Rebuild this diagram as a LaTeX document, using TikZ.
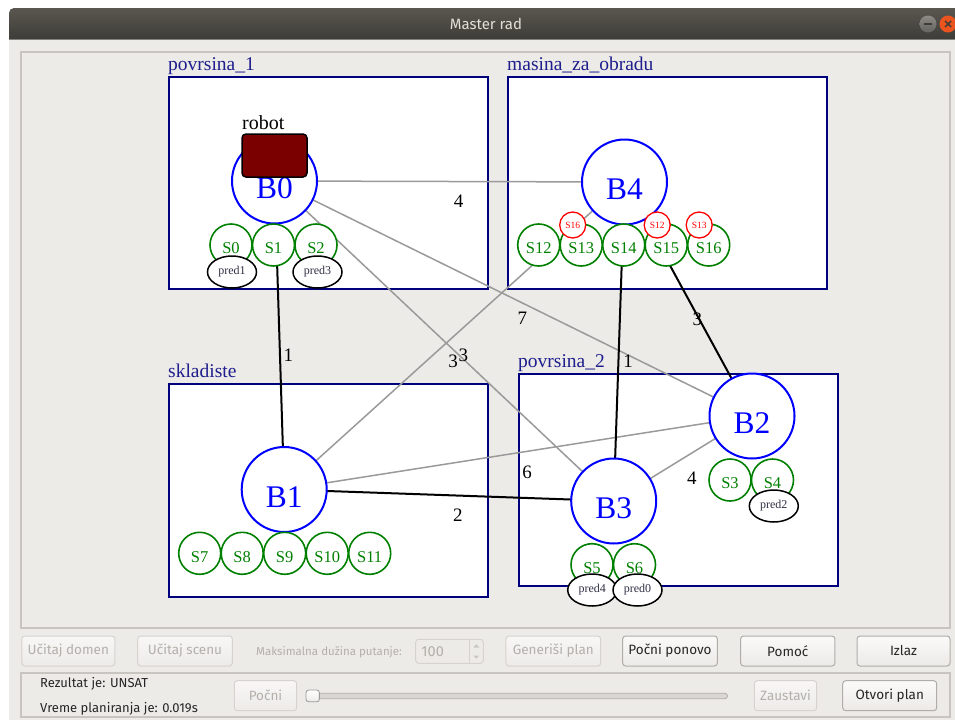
\documentclass[tikz,border=0pt]{standalone}
\usepackage{fontspec}
\setmainfont{Liberation Serif}
\newfontfamily\uifont{Fira Sans}
\usetikzlibrary{shapes.geometric}

% window and widget colours
\definecolor{deskwhite}{HTML}{FFFFFF}
\definecolor{winbg}{HTML}{EDEBE8}
\definecolor{titletop}{HTML}{5A5750}
\definecolor{titlebot}{HTML}{3D3C38}
\definecolor{titletext}{HTML}{E4E0D7}
\definecolor{framegray}{HTML}{C8C5C0}
\definecolor{btnborder}{HTML}{B0ADA8}
\definecolor{btnborderoff}{HTML}{D6D3CE}
\definecolor{btntop}{HTML}{FAFAF9}
\definecolor{btnbot}{HTML}{ECEAE7}
\definecolor{uitext}{HTML}{262626}
\definecolor{uitextoff}{HTML}{B3B0AA}
\definecolor{closeorange}{HTML}{E9541F}
\definecolor{mingray}{HTML}{7E7C77}
\definecolor{tracktone}{HTML}{DAD7D2}
\definecolor{handleedge}{HTML}{9C9A95}
% scene colours
\definecolor{areanavy}{HTML}{00007F}
\definecolor{labelnavy}{HTML}{1E1E8C}
\definecolor{basisblue}{HTML}{0000FF}
\definecolor{slotgreen}{HTML}{008000}
\definecolor{heldred}{HTML}{FF0000}
\definecolor{linkgray}{HTML}{9A9A9A}
\definecolor{robotred}{HTML}{7A0000}
\definecolor{predtext}{HTML}{303045}

\pgfdeclarelayer{panel}
\pgfdeclarelayer{links}
\pgfsetlayers{panel,links,main}

\begin{document}
\begin{tikzpicture}[x=1pt,y=-1pt,
  area/.style={rectangle, draw=areanavy, line width=2pt, fill=white, inner sep=0pt, anchor=north west},
  arealabel/.style={anchor=base west, inner sep=0pt, text=labelnavy, font=\fontsize{19.5}{20}\selectfont},
  basis/.style={circle, draw=basisblue, line width=2pt, fill=white, minimum size=85pt, inner sep=0pt,
    text=basisblue, font=\fontsize{31.5}{32}\selectfont, text height=35pt, text depth=0pt},
  slot/.style={circle, draw=slotgreen, line width=1.6pt, fill=white, minimum size=42pt, inner sep=0pt,
    text=slotgreen, font=\fontsize{16.5}{17}\selectfont, text height=17.5pt, text depth=0pt},
  held/.style={circle, draw=heldred, line width=1.3pt, fill=white, minimum size=26pt, inner sep=0pt,
    text=heldred, font=\fontsize{9.5}{10}\selectfont},
  pred/.style={ellipse, draw=black, line width=1.5pt, fill=white, minimum width=49pt, minimum height=32pt,
    inner sep=0pt, text=predtext, font=\fontsize{12}{12}\selectfont},
  thinlink/.style={draw=linkgray, line width=1.5pt},
  boldlink/.style={draw=black, line width=2pt},
  weight/.style={inner sep=0pt, xshift=9pt, yshift=-20pt, text=black, font=\fontsize{19}{19}\selectfont},
  uibtn/.style={rectangle, rounded corners=3pt, draw=btnborder, line width=1pt, top color=btntop,
    bottom color=btnbot, minimum height=30pt, inner sep=0pt, text=uitext,
    font=\uifont\fontsize{13.5}{14}\selectfont},
  uibtnoff/.style={uibtn, draw=btnborderoff, top color=winbg!40!white, bottom color=winbg, text=uitextoff},
  uilabel/.style={anchor=west, inner sep=0pt, text=uitext, font=\uifont\fontsize{13}{14}\selectfont},
]
\useasboundingbox (0,0) rectangle (955,720);

\begin{pgfonlayer}{panel}
  % desktop, window body and title bar
  \fill[deskwhite] (0,0) rectangle (955,720);
  \fill[winbg] (9,39.5) rectangle (955,720);
  \shade[top color=titletop, bottom color=titlebot]
    (9,39.5) [rounded corners=5pt] -- (9,8) -- (962,8) [sharp corners] -- (962,39.5) -- cycle;
  % drawing canvas and status panel frames
  \draw[framegray, line width=1.5pt] (21,52) rectangle (950,628);
  \draw[framegray, line width=1.2pt] (21,673) rectangle (950,717);

  % the four work areas
  \node[area, minimum width=319pt, minimum height=212pt] (zone1) at (168,76) {};
  \node[area, minimum width=319pt, minimum height=212pt] (zonemach) at (507,76) {};
  \node[area, minimum width=319pt, minimum height=213pt] (zonestore) at (168,383) {};
  \node[area, minimum width=319pt, minimum height=212pt] (zone2) at (518,373) {};
\end{pgfonlayer}

% window title and controls
\node[text=titletext, font=\uifont\fontsize{15}{15}\selectfont] (wintitle) at (486,24) {Master rad};
\node[circle, minimum size=17pt, inner sep=0pt, top color=mingray!90!white, bottom color=mingray!80!black] (minbtn) at (928,24) {};
\draw[titlebot, line width=1.5pt] ([xshift=-4pt]minbtn.center) -- ([xshift=4pt]minbtn.center);
\node[circle, minimum size=17pt, inner sep=0pt, fill=closeorange] (closebtn) at (948,24) {};
\draw[titlebot, line width=1.4pt] ([shift={(-3pt,-3pt)}]closebtn.center) -- ([shift={(3pt,3pt)}]closebtn.center);
\draw[titlebot, line width=1.4pt] ([shift={(-3pt,3pt)}]closebtn.center) -- ([shift={(3pt,-3pt)}]closebtn.center);

% area captions
\node[arealabel] (zone1lbl) at ([yshift=6pt]zone1.north west) {povrsina\_1};
\node[arealabel] (zonemachlbl) at ([yshift=6pt]zonemach.north west) {masina\_za\_obradu};
\node[arealabel] (zonestorelbl) at ([yshift=6pt]zonestore.north west) {skladiste};
\node[arealabel] (zone2lbl) at ([yshift=6pt]zone2.north west) {povrsina\_2};

% bases
\node[basis] (B0) at (274.5,181) {B0};
\node[basis] (B4) at (624.5,182) {B4};
\node[basis] (B1) at (284.2,489.5) {B1};
\node[basis] (B2) at (752,416) {B2};
\node[basis] (B3) at (613.7,501) {B3};

% slots
\node[slot] (S0) at (231,245) {S0};
\node[slot] (S1) at (273.5,245) {S1};
\node[slot] (S2) at (316,245) {S2};
\node[slot] (S12) at (538.7,245) {S12};
\node[slot] (S13) at (581.2,245) {S13};
\node[slot] (S14) at (623.7,245) {S14};
\node[slot] (S15) at (666.2,245) {S15};
\node[slot] (S16) at (708.7,245) {S16};
\node[slot] (S7) at (199.7,553.3) {S7};
\node[slot] (S8) at (242.2,553.3) {S8};
\node[slot] (S9) at (284.7,553.3) {S9};
\node[slot] (S10) at (327.2,553.3) {S10};
\node[slot] (S11) at (369.7,553.3) {S11};
\node[slot] (S3) at (730,480) {S3};
\node[slot] (S4) at (772.5,480) {S4};
\node[slot] (S5) at (592,564.7) {S5};
\node[slot] (S6) at (634.5,564.7) {S6};

% slots held on top of other slots
\node[held] (onS13) at ([shift={(-8.5pt,20pt)}]S13.center) {S16};
\node[held] (onS15) at ([shift={(-9pt,20pt)}]S15.center) {S12};
\node[held] (onS16) at ([shift={(-9.5pt,20pt)}]S16.center) {S13};

% predicates
\node[pred] (pred1) at (232,272) {pred1};
\node[pred] (pred3) at (317.5,272) {pred3};
\node[pred] (pred2) at (773.8,506) {pred2};
\node[pred] (pred4) at (592.2,590) {pred4};
\node[pred] (pred0) at (637.5,590) {pred0};

% robot
\node[rectangle, rounded corners=4pt, draw=black, line width=1.5pt, fill=robotred,
  minimum width=65pt, minimum height=43pt, inner sep=0pt] (robot) at (274.5,155.5) {};
\node[anchor=base west, inner sep=0pt, font=\fontsize{20}{20}\selectfont] (robotlbl) at (242,129) {robot};

% weighted connections between bases
\begin{pgfonlayer}{links}
  \draw[thinlink] (B0.center) -- node[weight] (w04) {4} (B4.center);
  \draw[thinlink] (B0.center) -- node[weight] (w02) {7} (B2.center);
  \draw[thinlink] (B0.center) -- node[weight] (w03) {3} (B3.center);
  \draw[thinlink] (B1.center) -- node[weight] (w14) {3} (B4.center);
  \draw[thinlink] (B1.center) -- node[weight] (w12) {6} (B2.center);
  \draw[thinlink] (B3.center) -- node[weight] (w32) {4} (B2.center);
  \draw[boldlink] (B0.center) -- node[weight] (w01) {1} (B1.center);
  \draw[boldlink] (B4.center) -- node[weight] (w43) {1} (B3.center);
  \draw[boldlink] (B4.center) -- node[weight] (w42) {3} (B2.center);
  \draw[boldlink] (B1.center) -- node[weight] (w13) {2} (B3.center);
\end{pgfonlayer}

% control row
\node[uibtnoff, minimum width=93pt] (loaddomain) at (68.3,651) {Učitaj domen};
\node[uibtnoff, minimum width=94.6pt] (loadscene) at (185,651) {Učitaj scenu};
\node[anchor=west, inner sep=0pt, text=uitextoff, font=\uifont\fontsize{11.5}{12}\selectfont] (maxlen) at (256,652) {Maksimalna dužina putanje:};
\node[rectangle, rounded corners=3pt, draw=btnborderoff, line width=1pt, fill=winbg,
  minimum width=67.6pt, minimum height=24pt, inner sep=0pt] (spin) at (449.5,651.3) {};
\draw[btnborderoff, line width=1pt] ([xshift=-14.5pt]spin.north east) -- ([xshift=-14.5pt]spin.south east);
\node[anchor=west, inner sep=0pt, text=uitextoff, font=\uifont\fontsize{14.5}{15}\selectfont] (spinval) at ([xshift=6pt]spin.west) {100};
\coordinate (spinup) at (476.3,646);
\coordinate (spindown) at (476.3,657);
\fill[uitextoff!70!white] ([shift={(-3pt,-1.5pt)}]spinup) -- ([shift={(3pt,-1.5pt)}]spinup) -- ([yshift=1.8pt]spinup) -- cycle;
\fill[uitextoff!70!white] ([shift={(-3pt,1.5pt)}]spindown) -- ([shift={(3pt,1.5pt)}]spindown) -- ([yshift=-1.8pt]spindown) -- cycle;
\node[uibtnoff, minimum width=94.7pt] (genplan) at (553.3,651) {Generiši plan};
\node[uibtn, minimum width=94.6pt] (restart) at (670,651) {Počni ponovo};
\node[uibtn, minimum width=94.3pt] (help) at (787.8,651) {Pomoć};
\node[uibtn, minimum width=93pt] (quit) at (903.5,651) {Izlaz};

% status panel
\node[uilabel] (result) at (40,684) {Rezultat je: UNSAT};
\node[uilabel] (plantime) at (40,709.3) {Vreme planiranja je: 0.019s};
\node[uibtnoff, minimum width=62.4pt] (play) at (265.5,695.7) {Počni};
\node[rectangle, rounded corners=2.5pt, draw=btnborder, line width=0.8pt, fill=tracktone,
  minimum width=414pt, minimum height=5.4pt, inner sep=0pt, anchor=west] (track) at (313,696) {};
\node[rectangle, rounded corners=2.5pt, draw=handleedge, line width=0.8pt, top color=white, bottom color=btnbot,
  minimum width=13.3pt, minimum height=11.7pt, inner sep=0pt] (knob) at (312.7,695.9) {};
\node[uibtnoff, minimum width=62.4pt] (stop) at (785.5,695.7) {Zaustavi};
\node[uibtn, minimum width=94pt] (openplan) at (889.7,695.7) {Otvori plan};
\end{tikzpicture}
\end{document}
